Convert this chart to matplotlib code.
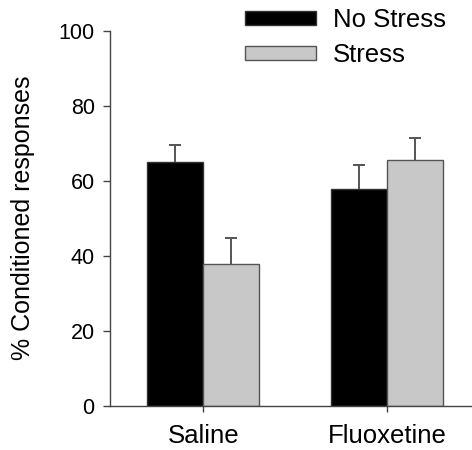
import matplotlib
matplotlib.use("Agg")
import matplotlib.pyplot as plt
import numpy as np

# % conditioned responses by treatment group
groups = ["Saline", "Fluoxetine"]
no_stress = [64.9, 57.7]
no_stress_err = [4.6, 6.6]
stress = [37.8, 65.5]
stress_err = [6.9, 5.9]

plt.rcParams["font.family"] = ["Liberation Sans", "DejaVu Sans"]

fig = plt.figure(figsize=(4.72, 4.5), dpi=100)
ax = fig.add_axes([0.233, 0.098, 0.767, 0.834])

x = np.arange(len(groups))
w = 0.304
err_kw = dict(ecolor="#555555", elinewidth=1.4, capsize=4.5, capthick=1.4)

b1 = ax.bar(x - w / 2, no_stress, w, color="black", edgecolor="#333333", linewidth=1,
            label="No Stress", yerr=[np.zeros(2), no_stress_err], error_kw=err_kw)
b2 = ax.bar(x + w / 2, stress, w, color="#c8c8c8", edgecolor="#555555", linewidth=1,
            label="Stress", yerr=[np.zeros(2), stress_err], error_kw=err_kw)
# only the upper half of each error bar is shown
for b in (b1, b2):
    b.errorbar.lines[1][0].set_visible(False)

ax.set_xlim(-0.507, 1.46)
ax.set_ylim(0, 100)
ax.set_yticks([0, 20, 40, 60, 80, 100])
ax.set_xticks(x)
ax.set_xticklabels(groups, fontsize=18.5)
ax.tick_params(axis="y", labelsize=15.5, length=5, width=1, color="#444444", pad=6)
ax.tick_params(axis="x", length=4, width=1, color="#444444", pad=9)
ax.set_ylabel("% Conditioned responses", fontsize=18, labelpad=17)

for s in ["top", "right"]:
    ax.spines[s].set_visible(False)
for s in ["left", "bottom"]:
    ax.spines[s].set_color("#444444")
    ax.spines[s].set_linewidth(1)

ax.legend(loc="upper left", bbox_to_anchor=(245 / 472, 1 - 8 / 450),
          bbox_transform=fig.transFigure, frameon=False,
          fontsize=18.5, handlelength=2.76, handleheight=0.47,
          handletextpad=0.65, labelspacing=0.42, borderaxespad=0, borderpad=0)

fig.savefig("out.png", dpi=100)
